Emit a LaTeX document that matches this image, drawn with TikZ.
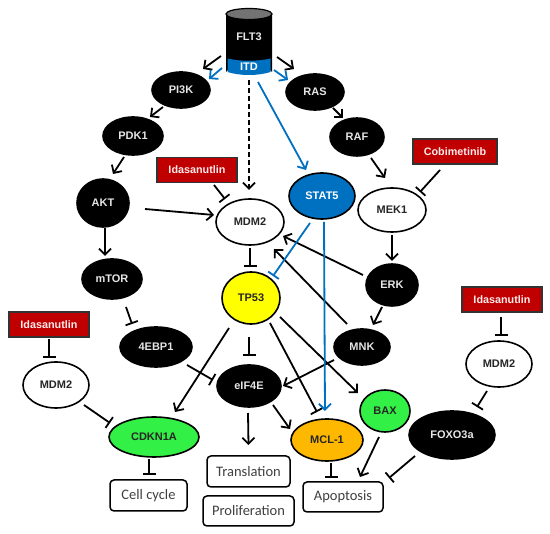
\documentclass[tikz,border=0pt]{standalone}
\usepackage{fontspec}
\setmainfont{Liberation Sans}
\newfontfamily\boxfont{Carlito}
\usetikzlibrary{arrows.meta,shapes.geometric}
\definecolor{blu}{RGB}{0,112,192}
\definecolor{drd}{RGB}{192,0,0}
\definecolor{grn}{RGB}{51,240,70}
\definecolor{org}{RGB}{255,184,0}
\definecolor{ylw}{RGB}{255,255,0}
\newcommand\conn[5]{\draw[#1] ([shift={(#3)}]#2.center) -- ([shift={(#5)}]#4.center);}
\tikzset{
 ell/.style={ellipse,draw=black,line width=1.6pt,inner sep=0pt,outer sep=0pt,font=\fontsize{11}{12}\bfseries},
 dk/.style={ell,fill=black,text=white!90!black},
 lt/.style={ell,fill=white,text=black!85},
 drug/.style={rectangle,draw=black!80,line width=1.2pt,fill=drd,text=white!92!red,inner sep=0pt,outer sep=0pt,font=\fontsize{10.8}{12}\bfseries},
 outc/.style={rectangle,draw=black,line width=1.5pt,rounded corners=4pt,fill=white,text=black!75,inner sep=0pt,outer sep=0pt,font=\boxfont\fontsize{14.5}{15}\selectfont},
 act/.style={line width=1.8pt,-{Straight Barb[length=6pt,width=12pt,line width=1.8pt]},black},
 inh/.style={line width=1.8pt,-{Bar[width=13pt,line width=1.8pt]},black},
 bact/.style={act,blu},
 binh/.style={inh,blu},
 dashline/.style={act,line width=2pt,dash pattern=on 5pt off 3pt},
}
\begin{document}
\begin{tikzpicture}[x=1pt,y=-1pt]
\useasboundingbox[fill=white] (0,0) rectangle (550,534);
% cylinder
\fill[black] (226,14) -- (226,72) arc[start angle=180,end angle=360,x radius=23,y radius=5] -- (272,14) -- cycle;
\fill[blu] (227.5,58.5) .. controls (240,61.5) and (258,61.5) .. (270.5,58.5) -- (270.5,72) .. controls (258,76) and (240,76) .. (227.5,72) -- cycle;
\draw[line width=1.2pt,fill=black!55] (249,14) ellipse[x radius=23,y radius=5.5];
\node[font=\fontsize{11}{12}\bfseries,text=white!90!black,inner sep=0pt] (flt) at (249,37) {FLT3};
\node[font=\fontsize{11}{12}\bfseries,text=white,inner sep=0pt] (itd) at (249,67) {ITD};
% nodes
\node[dk,minimum width=58pt,minimum height=36pt] (pi) at (181,90) {PI3K};
\node[dk,minimum width=58pt,minimum height=36pt] (ras) at (315,92) {RAS};
\node[dk,minimum width=54pt,minimum height=38pt] (raf) at (357,137) {RAF};
\node[dk,minimum width=60pt,minimum height=38pt] (pdk) at (133,136) {PDK1};
\node[dk,minimum width=52pt,minimum height=48pt] (akt) at (103,203) {AKT};
\node[dk,minimum width=60pt,minimum height=40pt] (mtor) at (112,279) {mTOR};
\node[dk,minimum width=72pt,minimum height=40pt] (eb) at (156,347) {4EBP1};
\node[lt,minimum width=66pt,minimum height=46pt] (mdl) at (56,385) {MDM2};
\node[ell,fill=grn,text=black!85,minimum width=90pt,minimum height=40pt] (cd) at (154,437) {CDKN1A};
\node[dk,minimum width=64pt,minimum height=42pt] (ei) at (249,386) {eIF4E};
\node[ell,fill=ylw,text=black!85,minimum width=58pt,minimum height=52pt] (tp) at (251,298) {TP53};
\node[lt,minimum width=68pt,minimum height=46pt] (mdm) at (250,222) {MDM2};
\node[ell,fill=blu,text=white,minimum width=66pt,minimum height=46pt] (stat) at (322,196) {STAT5};
\node[lt,minimum width=68pt,minimum height=44pt] (mek) at (392,210) {MEK1};
\node[dk,minimum width=52pt,minimum height=42pt] (erk) at (392,285) {ERK};
\node[dk,minimum width=56pt,minimum height=36pt] (mnk) at (362,347) {MNK};
\node[ell,fill=grn,text=black!85,minimum width=50pt,minimum height=42pt] (bax) at (385,411) {BAX};
\node[ell,fill=org,text=black!85,minimum width=72pt,minimum height=42pt] (mcl) at (327,440) {MCL-1};
\node[dk,minimum width=86pt,minimum height=48pt] (fox) at (452,435) {FOXO3a};
\node[lt,minimum width=66pt,minimum height=46pt] (mdr) at (499,364) {MDM2};
% drugs
\node[drug,minimum width=80pt,minimum height=25pt] (idl) at (49,324.5) {Idasanutlin};
\node[drug,minimum width=80pt,minimum height=25pt] (idm) at (197,170) {Idasanutlin};
\node[drug,minimum width=80pt,minimum height=25pt] (idr) at (502,299.5) {Idasanutlin};
\node[drug,minimum width=84pt,minimum height=25pt] (cob) at (455,151.5) {Cobimetinib};
% outcomes
\node[outc,minimum width=77pt,minimum height=31pt] (cc) at (148.5,495.5) {Cell cycle};
\node[outc,minimum width=83pt,minimum height=31pt] (tr) at (248.5,471.5) {Translation};
\node[outc,minimum width=91pt,minimum height=30pt] (pr) at (248.5,511) {Proliferation};
\node[outc,minimum width=80pt,minimum height=30pt] (ap) at (343,497) {Apoptosis};
% connectors
\conn{act}{flt}{-28,19}{pi}{22,-21}
\conn{bact}{itd}{-27,1}{pi}{28,-11}
\conn{act}{flt}{28,20}{ras}{-21,-23}
\conn{bact}{itd}{25,3}{ras}{-27,-12}
\conn{act}{pi}{-18,17}{pdk}{17,-19}
\conn{act}{ras}{18,16}{raf}{-14,-19}
\conn{act}{pdk}{-9,21}{akt}{10,-29}
\conn{act}{akt}{2,25}{mtor}{-7,-23}
\conn{act}{akt}{42,6}{mdm}{-36,-7}
\conn{inh}{mtor}{14,28}{eb}{-24,-23}
\conn{inh}{eb}{31,18}{ei}{-36,-6}
\conn{inh}{idl}{0,14.5}{mdl}{-7,-27}
\conn{inh}{mdl}{28,20}{cd}{-44,-14}
\conn{act}{tp}{-22,30}{cd}{21,-25}
\conn{inh}{tp}{-2,39}{ei}{0,-30}
\conn{inh}{cd}{-5,22}{cc}{0.5,-20.5}
\conn{act}{ei}{-1,27}{tr}{0,-26.5}
\conn{act}{ei}{24,19}{mcl}{-37,-11}
\conn{inh}{tp}{19,25}{mcl}{-10,-28}
\conn{act}{tp}{29,19}{bax}{-27,-18}
\conn{act}{mnk}{-28,13}{ei}{34,0}
\conn{act}{erk}{-10,22}{mnk}{11,-22}
\conn{act}{erk}{-29,-10}{mdm}{33,14}
\conn{act}{mnk}{-15,-23}{mdm}{24,27}
\conn{act}{mek}{0,25}{erk}{0,-24}
\conn{inh}{cob}{-15,18.5}{mek}{28,-18}
\conn{act}{raf}{14,21}{mek}{-7,-32}
\conn{inh}{idm}{17,15}{mdm}{-25,-23}
\conn{dashline}{itd}{0,13}{mdm}{-1,-32}
\conn{inh}{mdm}{0,26}{tp}{-1,-31}
\conn{binh}{stat}{-12,27}{tp}{22,-22}
\conn{bact}{itd}{9,15}{stat}{-16,-26}
\conn{bact}{stat}{2,26}{mcl}{-2,-29}
\conn{act}{bax}{-6,26}{ap}{17,-20}
\conn{inh}{mcl}{4,23}{ap}{-12,-19}
\conn{inh}{fox}{-37,21}{ap}{46,-19}
\conn{inh}{mdr}{-12,27}{fox}{25,-28}
\conn{inh}{idr}{-1,17.5}{mdr}{2,-28}
\end{tikzpicture}
\end{document}
